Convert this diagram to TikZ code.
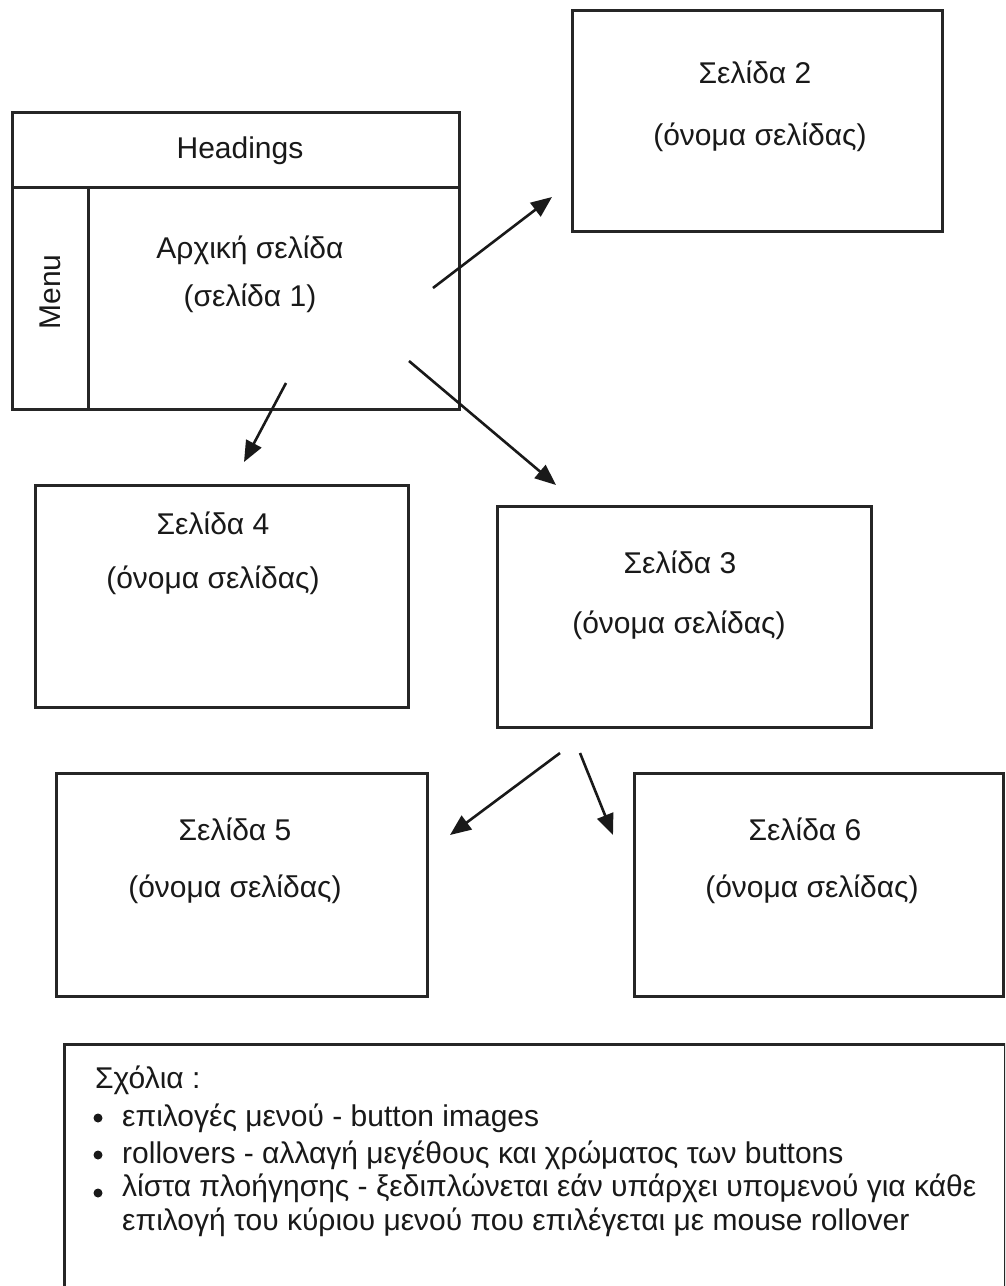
\documentclass[tikz,border=0pt]{standalone}
\usepackage{fontspec}
\setmainfont{Liberation Sans}
\usetikzlibrary{arrows.meta}

\tikzset{
  pagebox/.style={draw=black!85, line width=3pt, fill=white, inner sep=0pt},
  boxline/.style={draw=black!85, line width=3pt},
  label/.style={inner sep=0pt, font=\fontsize{30}{36}\selectfont, text=black!90},
  link/.style={draw=black!90, line width=2.6pt,
    -{Triangle[length=21pt, width=17pt]}},
  dot/.style={circle, fill=black!90, inner sep=0pt, minimum size=9pt},
}

\begin{document}
\begin{tikzpicture}[x=1pt, y=-1pt]
  \useasboundingbox (0,0) rectangle (1005,1286);
  \clip (0,0) rectangle (1005,1286);

  % home page: headings strip, menu column, content area
  \node[pagebox, minimum width=447pt, minimum height=297pt] (home) at (235.5,260.5) {};
  \draw[boxline] (12,187) -- (459,187);
  \draw[boxline] (88,187) -- (88,409);
  \node[label] (headings) at (240,151) {Headings};
  \node[label, rotate=90] (menu) at (50,292) {Menu};
  \node[label] (hometitle) at (250,250) {Αρχική σελίδα};
  \node[label] (homesub) at (250,298) {(σελίδα 1)};

  % linked pages
  \node[pagebox, minimum width=370pt, minimum height=221pt] (p2) at (757.7,121.3) {};
  \node[label] (p2t) at (755,72) {Σελίδα 2};
  \node[label] (p2s) at (760,137) {(όνομα σελίδας)};

  \node[pagebox, minimum width=373pt, minimum height=222pt] (p4) at (221.5,596) {};
  \node[label] (p4t) at (213,523) {Σελίδα 4};
  \node[label] (p4s) at (213,580) {(όνομα σελίδας)};

  \node[pagebox, minimum width=374pt, minimum height=221pt] (p3) at (684,616.5) {};
  \node[label] (p3t) at (680,562) {Σελίδα 3};
  \node[label] (p3s) at (679,625) {(όνομα σελίδας)};

  \node[pagebox, minimum width=371pt, minimum height=223pt] (p5) at (242,884.5) {};
  \node[label] (p5t) at (235,829) {Σελίδα 5};
  \node[label] (p5s) at (235,889) {(όνομα σελίδας)};

  \node[pagebox, minimum width=369pt, minimum height=223pt] (p6) at (818.5,884.5) {};
  \node[label] (p6t) at (805,829) {Σελίδα 6};
  \node[label] (p6s) at (812,889) {(όνομα σελίδας)};

  % arrow end points
  \coordinate (a1s) at (433,288);  \coordinate (a1e) at (552,197);
  \coordinate (a2s) at (286,383);  \coordinate (a2e) at (244,462);
  \coordinate (a3s) at (409,361);  \coordinate (a3e) at (556,485);
  \coordinate (a4s) at (560,753);  \coordinate (a4e) at (450,835);
  \coordinate (a5s) at (580,753);  \coordinate (a5e) at (613,835);
  \draw[link] (a1s) -- (a1e);
  \draw[link] (a2s) -- (a2e);
  \draw[link] (a3s) -- (a3e);
  \draw[link] (a4s) -- (a4e);
  \draw[link] (a5s) -- (a5e);

  % notes box (runs past the lower edge)
  \node[pagebox, minimum width=941pt, minimum height=300pt, anchor=north west] (notes) at (63,1043) {};
  \node[label, anchor=west] (nt) at (95,1080) {Σχόλια :};
  \node[dot] (b1) at (98,1118) {};
  \node[label, anchor=west] (n1) at (122,1118) {επιλογές μενού - button images};
  \node[dot] (b2) at (98,1155) {};
  \node[label, anchor=west] (n2) at (122,1155) {rollovers - αλλαγή μεγέθους και χρώματος των buttons};
  \node[dot] (b3) at (98,1193) {};
  \node[label, anchor=west] (n3) at (122,1188) {λίστα πλοήγησης - ξεδιπλώνεται εάν υπάρχει υπομενού για κάθε};
  \node[label, anchor=west] (n4) at (122,1222) {επιλογή του κύριου μενού που επιλέγεται με mouse rollover};
\end{tikzpicture}
\end{document}
